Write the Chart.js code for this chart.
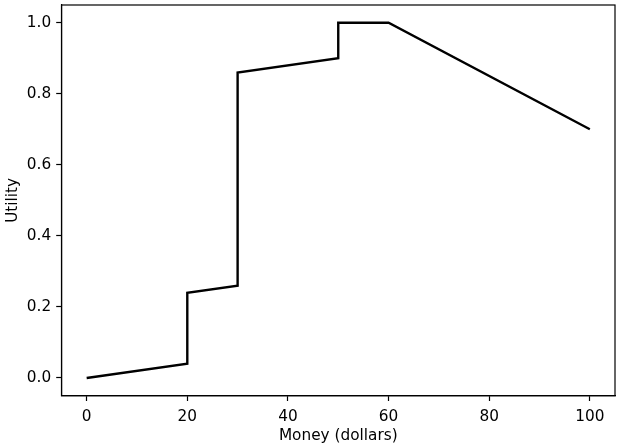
<!DOCTYPE html>
<html>
<head>
<meta charset="utf-8">
<script src="https://cdn.jsdelivr.net/npm/chart.js@4/dist/chart.umd.min.js"></script>
<style>
html,body{margin:0;padding:0;background:#fff;}
#wrap{width:623px;height:446px;}
</style>
</head>
<body>
<div id="wrap"><canvas id="c" width="623" height="446"></canvas></div>
<script>
const moneyX = [0, 20, 20, 30, 30, 50, 50, 60, 100];
const utilityY = [0.0, 0.04, 0.24, 0.26, 0.86, 0.90, 1.0, 1.0, 0.70];
const xTicks = [0, 20, 40, 60, 80, 100];
const yTicks = [0.0, 0.2, 0.4, 0.6, 0.8, 1.0];
const xLabel = 'Money (dollars)';
const yLabel = 'Utility';

const points = moneyX.map((x, i) => ({x: x, y: utilityY[i]}));

const frame = {
  id: 'frame',
  afterDatasetsDraw(chart) {
    const a = chart.chartArea, ctx = chart.ctx;
    ctx.save();
    ctx.strokeStyle = '#000';
    ctx.lineWidth = 1.2;
    ctx.strokeRect(a.left, a.top, a.right - a.left, a.bottom - a.top);
    ctx.restore();
  }
};

Chart.defaults.font.family = 'DejaVu Sans';
Chart.defaults.font.size = 15.3;
Chart.defaults.color = '#000';

new Chart(document.getElementById('c'), {
  type: 'scatter',
  data: {
    datasets: [{
      data: points,
      showLine: true,
      borderColor: '#000',
      borderWidth: 2.4,
      pointRadius: 0,
      fill: false,
      tension: 0
    }]
  },
  options: {
    responsive: false,
    animation: false,
    plugins: { legend: { display: false }, tooltip: { enabled: false } },
    layout: { padding: { top: 5, right: 8, left: 0, bottom: 0 } },
    scales: {
      x: {
        type: 'linear',
        min: -5, max: 105,
        afterBuildTicks: s => { s.ticks = xTicks.map(v => ({value: v})); },
        afterFit: s => { s.height = 50.3; s.paddingLeft = 0; s.paddingRight = 0; },
        ticks: { padding: 7, callback: v => String(v), maxRotation: 0, autoSkip: false },
        grid: { drawOnChartArea: false, drawTicks: true, tickLength: 5.3, tickColor: '#000', tickWidth: 1.2 },
        border: { display: true, color: '#000', width: 1.2 },
        title: { display: true, text: xLabel, padding: { top: 0, bottom: 1 } }
      },
      y: {
        type: 'linear',
        min: -0.05, max: 1.05,
        afterBuildTicks: s => { s.ticks = yTicks.map(v => ({value: v})); },
        afterFit: s => { s.width = 61.5; s.paddingTop = 0; s.paddingBottom = 0; },
        ticks: { padding: 5, callback: v => Number(v).toFixed(1), autoSkip: false },
        grid: { drawOnChartArea: false, drawTicks: true, tickLength: 5.3, tickColor: '#000', tickWidth: 1.2 },
        border: { display: true, color: '#000', width: 1.2 },
        title: { display: true, text: yLabel, padding: { top: 4, bottom: 0 } }
      }
    }
  },
  plugins: [frame]
});
</script>
</body>
</html>
